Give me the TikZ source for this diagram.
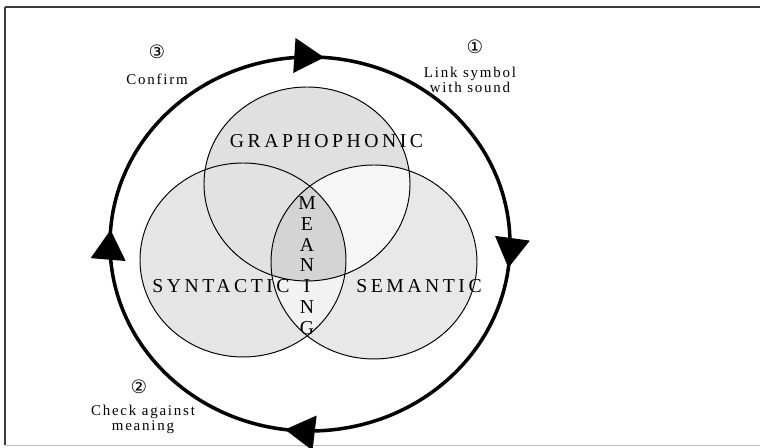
\documentclass[tikz,border=0pt]{standalone}
\usepackage{fontspec}
\setmainfont{Liberation Serif}
\newfontfamily\digitfont{DejaVu Sans}
\definecolor{ink}{RGB}{0,0,0}
\definecolor{rule}{RGB}{60,60,60}
\definecolor{paleline}{RGB}{190,190,190}
\definecolor{onlyG}{gray}{0.878}
\definecolor{onlySyn}{gray}{0.9}
\definecolor{onlySem}{gray}{0.91}
\definecolor{pairGSyn}{gray}{0.885}
\definecolor{pairGSem}{gray}{0.965}
\definecolor{pairSynSem}{gray}{0.95}
\definecolor{core}{gray}{0.83}
\usetikzlibrary{arrows.meta,decorations.markings}
\tikzset{
  lobe/.style={x radius=2.06, y radius=1.94},
  rim/.style={draw=ink, line width=0.55pt},
  region/.style={font=\fontsize{11.2}{11.8}\selectfont\addfontfeature{LetterSpace=18},
                 inner sep=0pt, text=ink},
  cue/.style={font=\fontsize{8.5}{8.2}\selectfont\addfontfeature{LetterSpace=12},
              align=center, inner sep=0pt, text=ink},
  num/.style={font=\digitfont\fontsize{10.5}{10.5}\selectfont, inner sep=0pt, text=ink},
  cycle ring/.style={ink, line width=2pt},
  bigtip/.tip={Triangle[length=17pt,width=19.5pt]},
}

\begin{document}
\begin{tikzpicture}
    \useasboundingbox (0,0) rectangle (15.2,8.96);
    % --- frame ---
    \draw[rule,line width=1.2pt] (0.1,8.82) -- (15.2,8.82);
    \draw[rule,line width=0.8pt] (0.1,8.82) -- (0.1,0.05);
    \draw[paleline,line width=0.8pt] (0.1,0.05) -- (15.2,0.05);
    % --- the three cueing systems ---
    \coordinate (gra) at (6.14,5.28);
    \coordinate (syn) at (4.86,3.76);
    \coordinate (sem) at (7.48,3.72);
    \fill[onlySyn] (syn) ellipse [lobe];
    \fill[onlySem] (sem) ellipse [lobe];
    \fill[onlyG]   (gra) ellipse [lobe];
    \begin{scope}
      \clip (syn) ellipse [lobe];
      \fill[pairSynSem] (sem) ellipse [lobe];
    \end{scope}
    \begin{scope}
      \clip (gra) ellipse [lobe];
      \fill[pairGSem] (sem) ellipse [lobe];
    \end{scope}
    \begin{scope}
      \clip (gra) ellipse [lobe];
      \fill[pairGSyn] (syn) ellipse [lobe];
    \end{scope}
    \begin{scope}
      \clip (gra) ellipse [lobe];
      \clip (syn) ellipse [lobe];
      \fill[core] (sem) ellipse [lobe];
    \end{scope}
    \draw[rim] (syn) ellipse [lobe];
    \draw[rim] (sem) ellipse [lobe];
    \draw[rim] (gra) ellipse [lobe];
    \node[region] (graphophonic) at (6.53,6.14) {GRAPHOPHONIC};
    \node[region] (syntactic) at (4.42,3.24) {SYNTACTIC};
    \node[region] (semantic) at (8.38,3.24) {SEMANTIC};
    \node[region,align=center] (meaning) at (6.14,3.65) {M\\E\\A\\N\\I\\N\\G};
    % --- the reading cycle ---
    \draw[cycle ring, postaction={decorate}, decoration={markings,
        mark=at position 0.134 with {\arrow{bigtip}},
        mark=at position 0.384 with {\arrow{bigtip}},
        mark=at position 0.642 with {\arrow{bigtip}},
        mark=at position 0.893 with {\arrow{bigtip}}}]
      (6.2,4.08) ++(225:4.0 and 3.74)
      arc [start angle=225, end angle=-135, x radius=4.0, y radius=3.74];
    \node[num] (step1) at (9.5,8.02) {①};
    \node[cue] (link) at (9.4,7.36) {Link symbol\\with sound};
    \node[num] (step2) at (2.78,1.22) {②};
    \node[cue] (check) at (2.86,0.57) {Check against\\meaning};
    \node[num] (step3) at (3.14,7.92) {③};
    \node[cue] (confirm) at (3.14,7.38) {Confirm};
\end{tikzpicture}
\end{document}
